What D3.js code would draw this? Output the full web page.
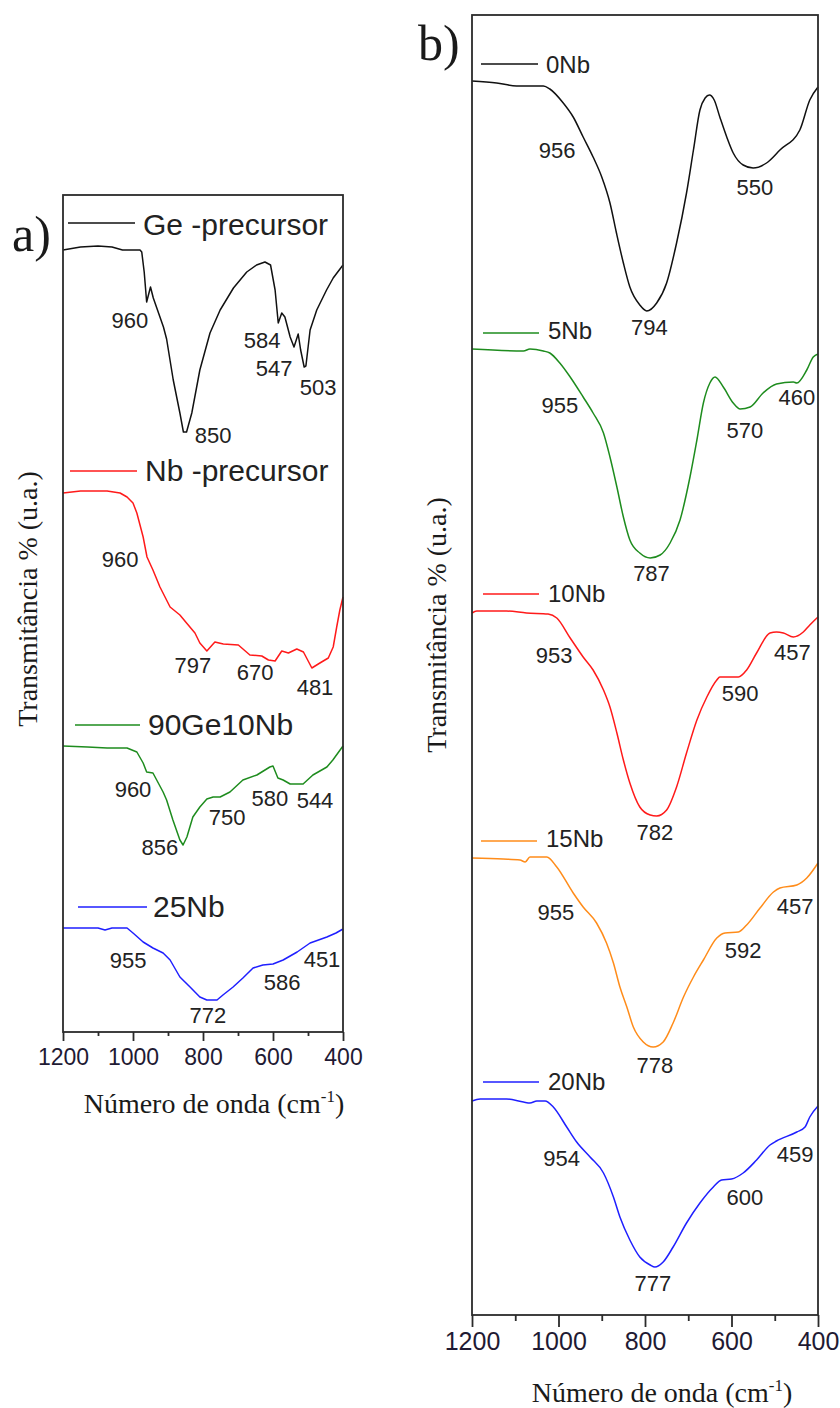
<!DOCTYPE html>
<html>
<head>
<meta charset="utf-8">
<style>
  body{margin:0;background:#fff}
  .ftir .curve{fill:none;stroke-width:1.5px;stroke-linejoin:round}
  .ftir .frame{fill:none;stroke:#2b2b2b;stroke-width:1.8px}
  .ftir .axis path{display:none}
  .ftir .axis line{stroke:#2b2b2b;stroke-width:1.8px}
  .ftir .axis text{fill:#1f1a33;font-family:'Liberation Sans',Arial,sans-serif}
  .ftir .mark{fill:#222;font-family:'Liberation Sans',Arial,sans-serif;font-size:22px}
  .ftir .leg{fill:#222;font-family:'Liberation Sans',Arial,sans-serif}
  .ftir .title{fill:#1a1a1a;font-family:'Liberation Serif','Times New Roman',serif;font-size:28px}
  .ftir .panel{fill:#1a1a1a;font-family:'Liberation Serif','Times New Roman',serif}
</style>
</head>
<body>
<div id="ftir"></div>
<script src="https://d3js.org/d3.v7.min.js"></script>
<script>
// wavenumber (cm-1) and transmittance (u.a., curves offset)

// ---- panel a
var geWn = [1200,1150,1100,1060,1030,980,975,968,961,950,942,913,904,885,866,856,847,832,809,780,751,713,675,647,623,607,594,585,575,566,551,540,528,521,511,506,494,475,447,428,400];
var geT  = [78.2,78.5,78.6,78.5,78.2,78.2,78.0,76.0,73.0,74.5,73.4,70.5,69.3,65.2,61.9,60.0,60.0,61.9,66.2,69.9,72.2,74.4,76.0,76.7,77.0,76.7,74.2,70.9,71.9,71.5,69.5,68.5,69.8,68.2,66.5,66.6,70.2,72.2,74.2,75.4,76.7];

var nbWn = [1200,1150,1074,1037,1017,1000,989,971,960,943,923,894,866,847,823,809,789,766,742,699,666,632,613,594,575,556,532,513,489,466,442,428,418,409,400];
var nbT  = [53.9,54.1,54.1,53.9,53.5,52.9,51.9,49.5,47.5,46.2,44.5,42.5,41.7,40.9,39.9,38.9,38.1,39.0,38.8,38.7,37.7,37.6,37.2,37.1,38.1,37.9,38.3,38.0,36.4,36.9,37.4,38.5,40.5,42.2,43.5];

var geNbWn = [1200,1130,1074,1017,989,971,961,943,914,904,886,866,857,846,829,809,789,771,751,723,686,646,609,600,586,571,551,514,486,446,429,400];
var geNbT  = [28.6,28.5,28.4,28.4,28.0,26.9,26.0,25.9,24.0,23.2,21.2,19.2,18.7,19.5,21.5,22.5,23.3,23.5,23.5,24.0,25.2,25.7,26.5,26.6,25.4,25.2,24.8,24.8,25.7,26.5,27.2,28.6];

var nb25Wn = [1200,1100,1080,1060,1017,1000,971,943,914,894,866,837,809,789,760,743,714,686,657,629,600,571,531,494,446,420,400];
var nb25T  = [10.4,10.4,10.2,10.4,10.4,9.9,9.0,8.4,7.9,7.2,5.5,4.5,3.5,3.2,3.2,3.7,4.5,5.4,6.4,6.7,6.8,7.2,8.0,8.9,9.5,9.9,10.3];

// ---- panel b
var nb0Wn = [1200,1143,1097,1035,1020,989,966,943,920,900,881,866,850,835,812,796,773,750,727,704,688,673,661,651,640,627,611,596,573,550,519,488,442,419,400];
var nb0T  = [123.4,123.2,122.9,122.9,122.6,121.2,119.8,117.8,115.8,113.8,111.2,108.2,105.2,102.8,101.0,100.4,101.2,103.2,107.2,112.2,116.5,120.5,121.7,122.0,121.5,119.8,117.8,116.2,115.0,114.7,115.2,116.5,118.5,121.5,122.8];

var nb5Wn = [1200,1081,1066,1035,1020,997,973,943,920,896,881,865,850,835,812,788,765,742,719,696,680,665,650,638,619,596,580,557,527,496,457,449,426,411,400];
var nb5T  = [96.6,96.4,96.6,96.4,96.2,95.2,93.8,91.8,90.2,88.2,85.8,82.8,79.8,77.5,76.2,75.7,76.0,77.2,79.5,83.8,87.5,91.2,93.2,93.8,92.8,91.2,90.6,90.8,92.2,93.1,93.3,93.2,94.5,95.8,96.1];

var nb10Wn = [1200,1189,1120,1074,1024,1004,973,943,920,896,881,865,850,835,812,788,773,750,727,704,680,657,634,627,584,565,542,511,496,480,457,434,419,400];
var nb10T  = [70.2,70.4,70.4,70.2,70.1,69.7,67.7,65.8,64.5,62.5,60.8,58.2,55.5,53.2,50.8,50.0,49.9,50.5,52.8,56.2,59.5,61.8,63.5,63.8,63.8,64.5,66.2,68.2,68.3,68.2,67.8,68.3,69.0,69.8];

var nb15Wn = [1200,1128,1089,1077,1066,1027,1004,966,943,912,889,873,858,842,827,804,781,758,735,711,688,665,634,615,584,565,534,503,488,449,426,400];
var nb15T  = [45.7,45.6,45.5,45.3,45.8,45.8,44.8,42.2,40.8,39.2,37.2,35.2,32.8,30.8,28.8,27.3,26.8,27.3,29.2,31.8,33.8,35.5,37.7,38.2,38.3,39.0,40.7,42.3,42.7,43.0,43.7,45.2];

var nb20Wn = [1200,1181,1120,1081,1066,1050,1031,1012,981,958,927,896,873,858,835,812,788,777,758,735,704,673,642,623,600,573,542,511,496,449,430,419,400];
var nb20T  = [21.4,21.6,21.6,21.3,21.2,21.4,21.4,20.8,18.8,17.3,15.8,14.2,11.8,9.8,7.5,5.8,5.0,4.8,5.3,6.8,9.2,11.2,12.8,13.5,13.6,14.2,15.5,17.0,17.4,18.3,18.8,19.8,20.9];

var namesA = ['Ge -precursor', 'Nb -precursor', '90Ge10Nb', '25Nb'];
var namesB = ['0Nb', '5Nb', '10Nb', '15Nb', '20Nb'];

// band labels: [text, wavenumber, transmittance] (centre of the text)
var marksA = [
  ['960',1009,71.2], ['850',771,59.7], ['584',631,69.2], ['547',597,66.4], ['503',471,64.5],
  ['960',1037,47.3], ['797',829,36.7], ['670',651,36.0], ['481',480,34.5],
  ['960',1000,24.3], ['856',923,18.5], ['750',731,21.5], ['580',609,23.4], ['544',480,23.2],
  ['955',1014,7.2], ['772',786,1.7], ['586',574,5.0], ['451',460,7.3]
];
var marksB = [
  ['956',1003,116.5], ['794',790,98.8], ['550',546,112.8],
  ['955',997,91.0], ['787',785,74.2], ['570',569,88.5], ['460',449,91.8],
  ['953',1010,66.0], ['782',777,48.3], ['590',580,62.2], ['457',459,66.3],
  ['955',1006,40.3], ['778',777,25.0], ['592',573,36.5], ['457',453,40.9],
  ['954',993,15.7], ['777',782,3.2], ['600',569,11.8], ['459',453,16.1]
];

var majorTicks = [1200, 1000, 800, 600, 400];
var minorTicks = [1100, 900, 700, 500];

(function () {

  var
    width  = 840,
    height = 1408,
    colorsA = ['#111111', '#ff1a1a', '#1e8c1e', '#1f1fff'],
    colorsB = ['#111111', '#1e8c1e', '#ff1a1a', '#ff8c1a', '#1f1fff'],
    svg = d3.select('#ftir').append('svg')
      .attr('class', 'ftir')
      .attr('width', width)
      .attr('height', height);

  svg.append('rect')
    .attr('width', width)
    .attr('height', height)
    .attr('fill', '#fff');

  var panelA = {
    x: d3.scaleLinear().domain([1200, 400]).range([63, 343]),
    y: d3.scaleLinear().domain([0, 83.7]).range([1032, 195]),
    series: [[geWn, geT], [nbWn, nbT], [geNbWn, geNbT], [nb25Wn, nb25T]],
    names: namesA,
    colors: colorsA,
    marks: marksA,
    curve: d3.curveLinear,
    // legend layout: line y, line x1, x2, text x, text baseline
    legend: [[223, 68, 135, 143, 235], [471, 70, 137, 145, 481], [725, 75, 140, 148, 735], [907, 78, 147, 153, 917]],
    legFont: 30,
    tickFont: 23, major: 9, minor: 4, pad: 8,
    ylab: [37, 599],
    xlab: [214, 1113],
    tag: ['a)', 12, 251]
  };

  var panelB = {
    x: d3.scaleLinear().domain([1200, 400]).range([472, 818]),
    y: d3.scaleLinear().domain([0, 130]).range([1315, 15]),
    series: [[nb0Wn, nb0T], [nb5Wn, nb5T], [nb10Wn, nb10T], [nb15Wn, nb15T], [nb20Wn, nb20T]],
    names: namesB,
    colors: colorsB,
    marks: marksB,
    curve: d3.curveMonotoneX,
    legend: [[64, 481, 538, 546, 73], [333, 483, 539, 548, 339], [594, 483, 539, 548, 602], [841, 481, 537, 546, 847], [1082, 483, 539, 548, 1090]],
    legFont: 24,
    tickFont: 25, major: 12, minor: 6, pad: 5,
    ylab: [446, 625],
    xlab: [662, 1402],
    tag: ['b)', 418, 60]
  };

  function drawPanel(p) {
    var g = svg.append('g'),
      x = p.x, y = p.y,
      x0 = x.range()[0], x1 = x.range()[1],
      yb = y.range()[0], yt = y.range()[1];

    // curves
    p.series.forEach(function (s, i) {
      var pts = s[0].map(function (w, k) { return [w, s[1][k]]; });
      var line = d3.line()
        .x(function (d) { return x(d[0]); })
        .y(function (d) { return y(d[1]); })
        .curve(p.curve);
      g.append('path')
        .attr('class', 'curve')
        .attr('d', line(pts))
        .style('stroke', p.colors[i]);
    });

    // frame
    g.append('rect')
      .attr('class', 'frame')
      .attr('x', x0)
      .attr('y', yt)
      .attr('width', x1 - x0)
      .attr('height', yb - yt);

    // bottom axis, major and minor ticks
    var ax = g.append('g')
      .attr('class', 'axis')
      .attr('transform', 'translate(0,' + yb + ')')
      .call(d3.axisBottom(x).tickValues(majorTicks).tickSize(p.major).tickPadding(p.pad).tickFormat(d3.format('d')));
    ax.selectAll('text').style('font-size', p.tickFont + 'px');

    g.append('g')
      .attr('class', 'axis')
      .attr('transform', 'translate(0,' + yb + ')')
      .call(d3.axisBottom(x).tickValues(minorTicks).tickSize(p.minor).tickFormat(''));

    // band labels
    g.selectAll('text.mark')
      .data(p.marks)
      .enter().append('text')
      .attr('class', 'mark')
      .attr('x', function (d) { return x(d[1]); })
      .attr('y', function (d) { return y(d[2]); })
      .attr('dy', '0.36em')
      .attr('text-anchor', 'middle')
      .text(function (d) { return d[0]; });

    // legend entries
    p.legend.forEach(function (l, i) {
      g.append('line')
        .attr('x1', l[1]).attr('x2', l[2])
        .attr('y1', l[0]).attr('y2', l[0])
        .style('stroke', p.colors[i])
        .style('stroke-width', '1.5px');
      g.append('text')
        .attr('class', 'leg')
        .attr('x', l[3])
        .attr('y', l[4])
        .style('font-size', p.legFont + 'px')
        .text(p.names[i]);
    });

    // axis titles
    g.append('text')
      .attr('class', 'title')
      .attr('transform', 'translate(' + p.ylab[0] + ',' + p.ylab[1] + ') rotate(-90)')
      .attr('text-anchor', 'middle')
      .text('Transmitância % (u.a.)');

    var xt = g.append('text')
      .attr('class', 'title')
      .attr('x', p.xlab[0])
      .attr('y', p.xlab[1])
      .attr('text-anchor', 'middle');
    xt.append('tspan').text('Número de onda (cm');
    xt.append('tspan').attr('dy', -11).style('font-size', '17px').text('-1');
    xt.append('tspan').attr('dy', 11).text(')');

    g.append('text')
      .attr('class', 'panel')
      .attr('x', p.tag[1])
      .attr('y', p.tag[2])
      .style('font-size', '50px')
      .text(p.tag[0]);
  }

  drawPanel(panelA);
  drawPanel(panelB);

})();
</script>
</body>
</html>
